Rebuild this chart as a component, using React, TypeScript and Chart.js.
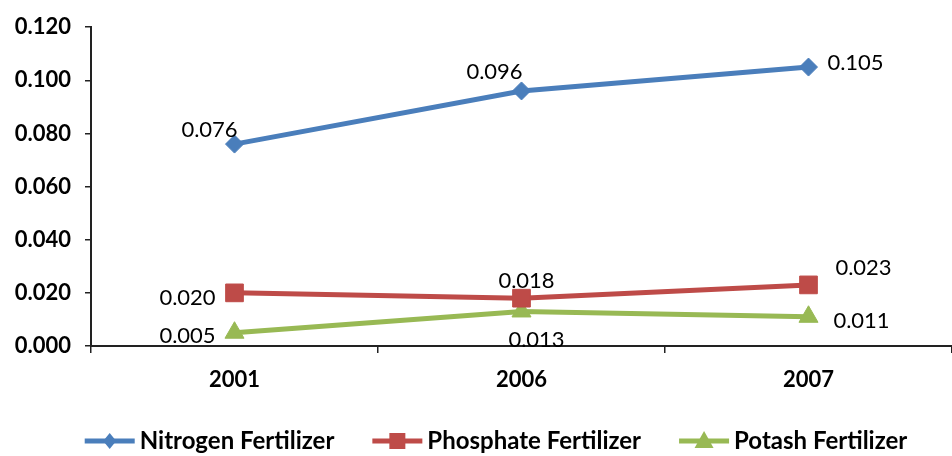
import React, { useEffect, useRef } from "react";
import { Chart, registerables } from "chart.js";

Chart.register(...registerables);

const YEARS = ["2001", "2006", "2007"];
const NITROGEN = [0.076, 0.096, 0.105];
const PHOSPHATE = [0.020, 0.018, 0.023];
const POTASH = [0.005, 0.013, 0.011];
const SERIES_NAMES = ["Nitrogen Fertilizer", "Phosphate Fertilizer", "Potash Fertilizer"];
const Y_MIN = 0;
const Y_MAX = 0.12;
const Y_STEP = 0.02;

// label offsets (text centre relative to point), per series, per point
const LABEL_OFFSETS = [
  [[-25, -14], [-27, -19], [47, -4]],
  [[-47, 5], [5, -17], [55, -17]],
  [[-47, 3], [15, 28], [53, 4]],
];

const COLORS = ["#4A7EBB", "#BE4B48", "#98B954"];
const STYLES = ["rectRot", "rect", "triangle"];
const RADII = [9, 12.5, 11];
const FONT = "Lato, 'Open Sans', sans-serif";

function drawMarker(ctx: CanvasRenderingContext2D, kind: number, x: number, y: number) {
  ctx.beginPath();
  if (kind === 0) {
    ctx.moveTo(x, y - 8);
    ctx.lineTo(x + 6.5, y);
    ctx.lineTo(x, y + 8);
    ctx.lineTo(x - 6.5, y);
    ctx.closePath();
  } else if (kind === 1) {
    ctx.rect(x - 8, y - 8, 16, 16);
  } else {
    ctx.moveTo(x, y - 10);
    ctx.lineTo(x + 9.5, y + 7);
    ctx.lineTo(x - 9.5, y + 7);
    ctx.closePath();
  }
  ctx.fill();
}

export default function App() {
  const ref = useRef<HTMLCanvasElement | null>(null);
  useEffect(() => {
    const canvas = ref.current!;
    const labelPlugin = {
      id: "pointLabels",
      afterDatasetsDraw(chart: any) {
        const ctx = chart.ctx;
        ctx.save();
        ctx.font = `22px ${FONT}`;
        ctx.fillStyle = "#000";
        ctx.textAlign = "center";
        ctx.textBaseline = "middle";
        chart.data.datasets.forEach((ds: any, di: number) => {
          const meta = chart.getDatasetMeta(di);
          meta.data.forEach((pt: any, i: number) => {
            const off = LABEL_OFFSETS[di][i];
            ctx.fillText(ds.data[i].toFixed(3), pt.x + off[0], pt.y + off[1]);
          });
        });
        ctx.restore();
      },
    };
    const legendPlugin = {
      id: "lineLegend",
      afterDraw(chart: any) {
        const ctx = chart.ctx;
        ctx.save();
        ctx.font = `bold 24px ${FONT}`;
        const lineW = 50;
        const textGap = 5;
        const itemGap = 38;
        const widths = SERIES_NAMES.map((n) => lineW + textGap + ctx.measureText(n).width);
        const total = widths.reduce((a, b) => a + b, 0) + itemGap * (widths.length - 1);
        let x = 496 - total / 2;
        const y = 441;
        SERIES_NAMES.forEach((name, i) => {
          ctx.strokeStyle = COLORS[i];
          ctx.lineWidth = 5;
          ctx.beginPath();
          ctx.moveTo(x, y);
          ctx.lineTo(x + lineW, y);
          ctx.stroke();
          ctx.fillStyle = COLORS[i];
          drawMarker(ctx, i, x + lineW / 2, y);
          ctx.fillStyle = "#000";
          ctx.textAlign = "left";
          ctx.textBaseline = "middle";
          ctx.fillText(name, x + lineW + textGap, y);
          x += widths[i] + itemGap;
        });
        ctx.restore();
      },
    };
    const mk = (label: string, data: number[], i: number) => ({
      label,
      data,
      borderColor: COLORS[i],
      backgroundColor: COLORS[i],
      pointBackgroundColor: COLORS[i],
      pointBorderColor: COLORS[i],
      borderWidth: 5,
      pointStyle: STYLES[i],
      pointRadius: RADII[i],
      pointBorderWidth: 1,
      tension: 0,
      clip: false,
    });
    const chart = new Chart(canvas, {
      type: "line",
      data: {
        labels: YEARS,
        datasets: [
          mk(SERIES_NAMES[0], NITROGEN, 0),
          mk(SERIES_NAMES[1], PHOSPHATE, 1),
          mk(SERIES_NAMES[2], POTASH, 2),
        ],
      },
      options: {
        responsive: false,
        animation: false,
        layout: { autoPadding: false, padding: { top: 27, right: 0, left: 0, bottom: 0 } },
        plugins: { legend: { display: false }, tooltip: { enabled: false } },
        scales: {
          x: {
            offset: true,
            grid: { offset: true, drawOnChartArea: false, drawTicks: true, tickLength: 7, color: "#222", lineWidth: 1.5 },
            border: { display: true, color: "#222", width: 2 },
            ticks: { color: "#000", font: { family: FONT, size: 22, weight: "bold" }, padding: 14, maxRotation: 0 },
            afterFit: (s: any) => { s.height = 110; s.paddingLeft = 0; s.paddingRight = 0; },
          },
          y: {
            min: Y_MIN,
            max: Y_MAX,
            grid: { drawOnChartArea: false, drawTicks: true, tickLength: 6, color: "#222", lineWidth: 1.5 },
            border: { display: true, color: "#222", width: 2 },
            ticks: {
              stepSize: Y_STEP,
              color: "#000",
              font: { family: FONT, size: 22, weight: "bold" },
              padding: 14,
              callback: (v: any) => Number(v).toFixed(3),
            },
            afterFit: (s: any) => { s.width = 91; },
          },
        },
      },
      plugins: [labelPlugin, legendPlugin],
    } as any);
    return () => chart.destroy();
  }, []);
  return (
    <div style={{ position: "fixed", left: 0, top: 0, width: 952, height: 456, background: "#fff" }}>
      <canvas ref={ref} width={952} height={456} />
    </div>
  );
}
